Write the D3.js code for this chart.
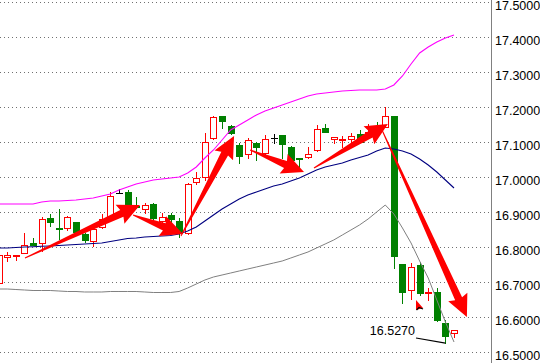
<!DOCTYPE html>
<html><head><meta charset="utf-8">
<script src="https://cdn.jsdelivr.net/npm/d3@7"></script>
<style>body{margin:0;background:#fff}svg{display:block}</style>
</head><body>
<script>
// ---- data ----
const opens  = [16.6986,16.7729,16.7771,16.7843,16.8129,16.8129,16.8843,16.8557,16.8557,16.8729,16.8386,16.8186,16.8586,16.8814,16.9557,16.9586,16.9186,16.9100,16.9243,16.8757,16.8929,16.8757,16.8414,16.9871,17.0014,17.1129,17.1757,17.1471,17.0929,17.0671,17.0986,17.0700,17.1129,17.1214,17.0871,17.0557,17.0586,17.0786,17.1414,17.1100,17.1086,17.1100,17.1243,17.1157,17.1471,17.1443,17.1757,16.7529,16.6786,16.7500,16.6714,16.6729,16.5843,16.5557];
const highs  = [16.7814,16.7871,16.7786,16.8414,16.8271,16.8871,16.8957,16.9100,16.8900,16.8729,16.8414,16.8557,16.8957,16.9586,16.9671,16.9643,16.9443,16.9271,16.9271,16.8986,16.8986,16.8843,16.9843,17.0157,17.1271,17.1757,17.1757,17.1500,17.0986,17.1129,17.1014,17.1214,17.1243,17.1214,17.0900,17.0557,17.0871,17.1500,17.1529,17.1157,17.1186,17.1271,17.1357,17.1529,17.1586,17.2014,17.1757,16.7529,16.7557,16.7586,16.6843,16.6843,16.5929,16.5643];
const lows   = [16.6929,16.7614,16.7643,16.7843,16.8071,16.7900,16.8614,16.8243,16.8500,16.8386,16.8157,16.8043,16.8557,16.8786,16.9557,16.9157,16.9129,16.8986,16.8786,16.8700,16.8729,16.8300,16.8386,16.9814,16.9929,17.1100,17.1414,17.1243,17.0414,17.0557,17.0500,17.0671,17.0986,17.0557,17.0271,17.0186,17.0557,17.0757,17.1300,17.0986,17.0871,17.0986,17.1014,17.1157,17.1300,17.1443,16.7414,16.6414,16.6529,16.6643,16.6500,16.5900,16.5270,16.5443];
const closes = [16.7786,16.7786,16.7786,16.8071,16.8071,16.8814,16.8729,16.8529,16.8871,16.8443,16.8214,16.8529,16.8814,16.9471,16.9557,16.9214,16.9157,16.9214,16.8843,16.8871,16.8814,16.8414,16.9814,16.9986,17.1014,17.1729,17.1614,17.1271,17.0614,17.1071,17.0871,17.1100,17.1129,17.0957,17.0500,17.0543,17.0671,17.1386,17.1300,17.1157,17.1100,17.1186,17.1014,17.1300,17.1457,17.1757,16.7757,16.6729,16.7443,16.6700,16.6729,16.5929,16.5471,16.5643];

const upperBand  = [16.9243,16.9243,16.9243,16.9243,16.9243,16.9300,16.9329,16.9329,16.9343,16.9357,16.9386,16.9414,16.9471,16.9529,16.9643,16.9729,16.9814,16.9871,16.9929,16.9957,16.9986,17.0014,17.0129,17.0300,17.0557,17.0786,17.1071,17.1357,17.1500,17.1643,17.1786,17.1900,17.1986,17.2071,17.2157,17.2243,17.2329,17.2386,17.2414,17.2443,17.2471,17.2486,17.2500,17.2500,17.2500,17.2529,17.2643,17.2900,17.3243,17.3557,17.3729,17.3871,17.3986,17.4071];
const middleBand = [16.7986,16.7986,16.8000,16.8014,16.8023,16.8034,16.8043,16.8057,16.8071,16.8086,16.8100,16.8114,16.8129,16.8171,16.8214,16.8257,16.8271,16.8300,16.8314,16.8329,16.8343,16.8386,16.8471,16.8586,16.8757,16.8929,16.9100,16.9243,16.9386,16.9500,16.9586,16.9671,16.9757,16.9814,16.9900,16.9986,17.0100,17.0214,17.0300,17.0357,17.0414,17.0500,17.0571,17.0643,17.0757,17.0843,17.0814,17.0757,17.0671,17.0529,17.0357,17.0157,16.9929,16.9700];
const lowerBand  = [16.6814,16.6814,16.6800,16.6786,16.6771,16.6771,16.6771,16.6757,16.6743,16.6743,16.6729,16.6729,16.6729,16.6743,16.6743,16.6743,16.6743,16.6729,16.6714,16.6714,16.6714,16.6743,16.6843,16.6957,16.7071,16.7157,16.7214,16.7271,16.7329,16.7386,16.7443,16.7500,16.7557,16.7614,16.7700,16.7786,16.7871,16.7986,16.8100,16.8214,16.8357,16.8500,16.8643,16.8814,16.9014,16.9214,16.8957,16.8557,16.8129,16.7614,16.7129,16.6500,16.5871,16.5300];

const tickValues = [17.5,17.4,17.3,17.2,17.1,17.0,16.9,16.8,16.7,16.6,16.5];
const tickLabels = ["17.5000","17.4000","17.3000","17.2000","17.1000","17.0000","16.9000","16.8000","16.7000","16.6000","16.5000"];

// annotation arrows: [fromIndex, fromPrice, toIndex, toPrice]
const arrowFrom = [[3.06,16.7700],[15.64,16.8929],[21.22,16.8329],[29.26,17.0786],[36.7,17.0271],[44.62,17.1357]];
const arrowTo   = [[16.45,16.9214],[21.45,16.8386],[27.4,17.1186],[35.54,17.0157],[45.3,17.1529],[54.5,16.6014]];

const lowLabel = "16.5270";
const lowValue = 16.527;
const lowFromIndex = 48.58, lowFromPrice = 16.5414, lowToIndex = 52;
const cursorIndex = 48.58, cursorPrice = 16.65;

// ---- drawing ----
const W = 540, H = 363;
const svg = d3.select("body").append("svg").attr("width", W).attr("height", H);
svg.append("rect").attr("width", W).attr("height", H).attr("fill", "#fff");

const x = d3.scaleLinear().domain([0, 53]).range([-1.3, 454]);
const y = d3.scaleLinear().domain([16.5, 17.5]).range([352.5, 2.5]);
const axisX = 491.5;
const font = "'Liberation Sans', Arial, sans-serif";

// gridlines
svg.append("g").selectAll("line").data(tickValues).join("line")
  .attr("x1", 0).attr("x2", axisX - 1)
  .attr("y1", d => y(d)).attr("y2", d => y(d))
  .attr("stroke", "#707070").attr("stroke-width", 1)
  .attr("stroke-dasharray", "1,3").attr("shape-rendering", "crispEdges");

// axis
const axis = d3.axisRight(y).tickValues(tickValues)
  .tickFormat((d, i) => tickLabels[i]).tickSize(0).tickPadding(3.5);
const ag = svg.append("g").attr("transform", `translate(${axisX},0)`).call(axis);
ag.select(".domain").remove();
ag.selectAll("text").attr("font-family", font).attr("font-size", "12.5px")
  .attr("fill", "#000").attr("dy", "0.55em");
svg.append("line").attr("x1", axisX).attr("x2", axisX).attr("y1", 0).attr("y2", H)
  .attr("stroke", "#808080").attr("stroke-width", 1);

// candles
const candles = d3.range(opens.length).map(i => ({i, o: opens[i], h: highs[i], l: lows[i], c: closes[i]}));
const cg = svg.append("g").attr("shape-rendering", "crispEdges");
candles.forEach(d => {
  const cp = Math.round(x(d.i));
  const col = d.c > d.o ? "#ff0000" : (d.c < d.o ? "#008000" : "#000000");
  const yt = Math.round(y(Math.max(d.o, d.c)));
  const yb = Math.round(y(Math.min(d.o, d.c)));
  cg.append("line").attr("x1", cp + 0.5).attr("x2", cp + 0.5)
    .attr("y1", Math.round(y(d.h))).attr("y2", Math.round(y(d.l)) + 1)
    .attr("stroke", col).attr("stroke-width", 1);
  if (d.c === d.o) {
    cg.append("line").attr("x1", cp - 3).attr("x2", cp + 4)
      .attr("y1", yt + 0.5).attr("y2", yt + 0.5).attr("stroke", col).attr("stroke-width", 1);
  } else if (d.c > d.o) {
    cg.append("rect").attr("x", cp - 2.5).attr("y", yt + 0.5)
      .attr("width", 6).attr("height", Math.max(1, yb - yt))
      .attr("fill", "#fff").attr("stroke", col).attr("stroke-width", 1);
  } else {
    cg.append("rect").attr("x", cp - 3).attr("y", yt)
      .attr("width", 7).attr("height", Math.max(2, yb - yt + 1))
      .attr("fill", col);
  }
});

// bands
const line = d3.line().x((d, i) => x(i)).y(d => y(d));
svg.append("path").datum(lowerBand).attr("d", line).attr("fill", "none").attr("stroke", "#808080").attr("stroke-width", 1);
svg.append("path").datum(middleBand).attr("d", line).attr("fill", "none").attr("stroke", "#000080").attr("stroke-width", 1.1);
svg.append("path").datum(upperBand).attr("d", line).attr("fill", "none").attr("stroke", "#ff00ff").attr("stroke-width", 1.1);

// low marker and label
svg.append("line")
  .attr("x1", x(lowFromIndex)).attr("y1", y(lowFromPrice))
  .attr("x2", x(lowToIndex)).attr("y2", y(lowValue))
  .attr("stroke", "#000").attr("stroke-width", 1.2);
svg.append("text").attr("x", x(lowFromIndex) - 1).attr("y", y(lowFromPrice) - 3.5)
  .attr("text-anchor", "end").attr("font-family", font).attr("font-size", "12.5px")
  .attr("fill", "#000").text(lowLabel);

// arrows
function arrowPath(x1, y1, x2, y2) {
  const dx = x2 - x1, dy = y2 - y1, L = Math.hypot(dx, dy);
  const ux = dx / L, uy = dy / L, nx = -uy, ny = ux;
  const hl = 20, hw = 10.5, w1 = 3.8, w0 = 0.5;
  const bx = x2 - ux * hl, by = y2 - uy * hl;
  const p = [
    [x1 + nx * w0, y1 + ny * w0],
    [bx + nx * w1, by + ny * w1],
    [bx + nx * hw - ux * 2, by + ny * hw - uy * 2],
    [x2, y2],
    [bx - nx * hw - ux * 2, by - ny * hw - uy * 2],
    [bx - nx * w1, by - ny * w1],
    [x1 - nx * w0, y1 - ny * w0]
  ];
  return "M" + p.map(q => q.join(",")).join("L") + "Z";
}
svg.append("g").selectAll("path").data(arrowFrom).join("path")
  .attr("d", (d, i) => arrowPath(x(d[0]), y(d[1]), x(arrowTo[i][0]), y(arrowTo[i][1])))
  .attr("fill", "#ff0000");

// cursor mark
const cx0 = x(cursorIndex), cy0 = y(cursorPrice);
svg.append("path")
  .attr("d", `M${cx0},${cy0}L${cx0},${cy0 + 10}L${cx0 + 7},${cy0 + 8}Z`)
  .attr("fill", "#ff0000");
svg.append("path")
  .attr("d", `M${cx0 + 0.5},${cy0 + 10}L${cx0 + 3},${cy0 + 7.5}L${cx0 + 7},${cy0 + 9}`)
  .attr("fill", "none").attr("stroke", "#000").attr("stroke-width", 1.2);
</script>
</body></html>
